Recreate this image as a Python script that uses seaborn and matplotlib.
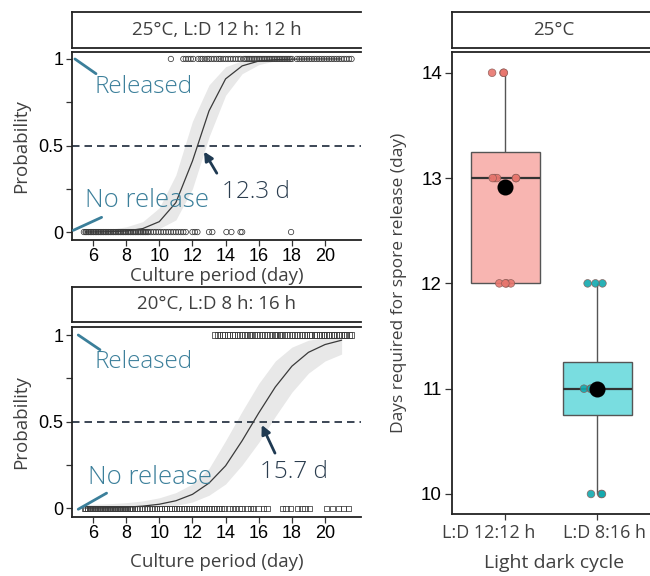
import numpy as np
import pandas as pd
import matplotlib
matplotlib.use("Agg")
import matplotlib.pyplot as plt
import matplotlib.transforms as mtransforms
import seaborn as sns

# ---- logistic panels: culture day of each sample, by outcome ----
top_released = [10.7,
    11.45, 11.6, 11.75, 11.9, 12.05,
    12.35, 12.5, 12.6, 12.75, 12.9, 13.0, 13.15, 13.3, 13.45, 13.6, 13.7, 13.85,
    14.0, 14.15, 14.3, 14.45, 14.6, 14.75, 14.9,
    15.1, 15.2, 15.3, 15.4, 15.5, 15.6, 15.7, 15.8, 15.9, 16.0, 16.1, 16.2, 16.3,
    16.4, 16.5, 16.6, 16.7, 16.8, 16.9, 17.0, 17.1, 17.2, 17.3, 17.4, 17.5, 17.6,
    17.7, 17.8, 17.9, 18.0,
    18.3, 18.45, 18.6, 18.75, 18.9, 19.05, 19.2, 19.35, 19.5, 19.65, 19.8, 19.95,
    20.1, 20.25, 20.4, 20.55, 20.7, 20.85, 21.0, 21.15, 21.3, 21.45, 21.6]
top_no_release = [5.45, 5.55, 5.6, 5.7, 5.75, 5.85, 5.9, 6.0, 6.05, 6.15, 6.2, 6.3,
    6.35, 6.45, 6.5, 6.6, 6.65, 6.75, 6.8, 6.9, 6.95, 7.05, 7.1, 7.2, 7.25, 7.35,
    7.4, 7.5, 7.55, 7.65, 7.7, 7.8, 7.85, 7.95, 8.0, 8.1, 8.15, 8.25, 8.3, 8.4,
    8.45, 8.55, 8.6, 8.7, 8.75, 8.85, 8.9, 9.0, 9.05, 9.15, 9.2, 9.3, 9.35, 9.5,
    9.65, 9.8, 9.95, 10.1, 10.25, 10.4, 10.55, 10.7, 10.85, 11.0, 11.15, 11.3,
    11.45, 11.6,
    12.0, 12.15, 12.3, 13.0, 13.2, 14.05, 14.35, 14.9, 15.0, 17.95]

bottom_released = [13.35, 13.5, 13.65, 13.8, 13.95, 14.1, 14.25, 14.4, 14.55, 14.7,
    14.85, 15.0, 15.15, 15.3, 15.45, 15.5, 15.6, 15.75, 15.9, 16.05, 16.2, 16.35,
    16.5, 16.65, 16.8, 16.95, 17.0, 17.1, 17.25, 17.3, 17.4, 17.55, 17.7, 17.85,
    18.0, 18.15, 18.3, 18.45, 18.6, 18.75, 18.9, 19.05, 19.1, 19.2, 19.35, 19.5,
    19.65, 19.8, 19.9, 19.95, 20.1, 20.25, 20.4, 20.5, 20.55, 20.7, 20.85, 21.0,
    21.15, 21.2, 21.3, 21.45, 21.6]
bottom_no_release = [5.5, 5.55, 5.65, 5.7, 5.8, 5.85, 5.95, 6.0, 6.1, 6.15, 6.25,
    6.3, 6.4, 6.45, 6.55, 6.6, 6.7, 6.75, 6.85, 6.9, 7.0, 7.05, 7.15, 7.2, 7.3,
    7.35, 7.45, 7.5, 7.6, 7.65, 7.75, 7.8, 7.9, 7.95, 8.05, 8.1, 8.2, 8.25, 8.35,
    8.4, 8.5, 8.65, 8.8, 8.95, 9.1, 9.25, 9.4, 9.55, 9.7, 9.85, 10.0, 10.15, 10.3,
    10.45, 10.6, 10.75, 10.9, 11.05, 11.2, 11.35, 11.5, 11.65, 11.8, 11.95, 12.1,
    12.25, 12.4, 12.55, 12.7, 12.85, 13.0, 13.15, 13.3, 13.45, 13.6, 13.75, 13.9,
    14.2, 14.4, 14.6, 14.8, 15.0, 15.3, 15.5, 15.7, 15.95, 16.3, 16.5,
    17.45, 17.65, 17.9, 18.35, 18.6, 18.8, 19.05, 20.1, 20.45, 20.8, 21.1, 21.4]

# fitted probability and its band, read at each day
fit_days = [5.5, 6, 7, 8, 9, 10, 11, 12, 13, 14, 15, 16, 17, 18, 19, 20, 21]
top_prob = [0.0003, 0.0005, 0.002, 0.006, 0.02, 0.06, 0.17, 0.41, 0.70, 0.885,
            0.96, 0.988, 0.996, 0.999, 1.0, 1.0, 1.0]
top_lo = [0.0, 0.0, 0.0, 0.001, 0.005, 0.02, 0.07, 0.25, 0.55, 0.79, 0.915,
          0.967, 0.99, 0.997, 0.999, 1.0, 1.0]
top_hi = [0.006, 0.008, 0.015, 0.03, 0.06, 0.14, 0.33, 0.64, 0.85, 0.955, 0.99,
          0.998, 1.0, 1.0, 1.0, 1.0, 1.0]
bottom_prob = [0.0012, 0.0017, 0.003, 0.006, 0.012, 0.023, 0.043, 0.08, 0.145,
               0.245, 0.39, 0.55, 0.70, 0.82, 0.90, 0.945, 0.97]
bottom_lo = [0.0001, 0.0001, 0.0003, 0.001, 0.003, 0.007, 0.016, 0.036, 0.075,
             0.14, 0.25, 0.38, 0.53, 0.67, 0.78, 0.85, 0.89]
bottom_hi = [0.02, 0.022, 0.026, 0.032, 0.042, 0.06, 0.09, 0.14, 0.23, 0.39, 0.56,
             0.72, 0.85, 0.93, 0.97, 0.985, 0.993]

# ---- box plot panel ----
cycles = ["L:D 12:12 h", "L:D 8:16 h"]
days_12_12 = [12, 12, 12, 12, 13, 13, 13, 13, 13, 14, 14, 14]
days_8_16 = [10, 10, 10, 11, 11, 11, 11, 11, 11, 12, 12, 12]

sns.set_theme(style="white")
plt.rcParams["font.family"] = ["Open Sans", "DejaVu Sans"]

TEAL = "#3b7f9a"
NAVY = "#1f3a52"
GREY = "#404040"
W, H = 650, 576


def px(x0, y0, x1, y1):
    # pixel box -> figure fraction rect
    return [x0 / W, 1 - y1 / H, (x1 - x0) / W, (y1 - y0) / H]


def strip(fig, rect, label, cut_right=True):
    s = fig.add_axes(rect)
    s.set_xticks([])
    s.set_yticks([])
    for sp in s.spines.values():
        sp.set_color("#222222")
        sp.set_linewidth(1.3)
    if cut_right:
        s.spines["right"].set_visible(False)
    s.text(0.5, 0.5, label, ha="center", va="center", fontsize=13.5,
           color=GREY, transform=s.transAxes)


def logistic_panel(ax, released, no_release, marker, prob, lo, hi, t50_label,
                   tail, tip, t50_xy, rel_xy, rel_line, no_xy, no_line, ylim, xpad):
    df = pd.DataFrame({"day": released + no_release,
                       "state": [1] * len(released) + [0] * len(no_release)})
    ax.fill_between(fit_days, lo, hi, color="#e8e8e8", lw=0, zorder=0)
    sns.lineplot(x=fit_days, y=prob, color="#3a3a3a", lw=0.9, ax=ax, zorder=2)
    sns.scatterplot(data=df, x="day", y="state", marker=marker, s=15,
                    facecolor="none", edgecolor="#3a3a3a", linewidth=0.55,
                    ax=ax, zorder=3, legend=False)
    ax.axhline(0.5, color="#1b2838", lw=1.2, ls=(0, (4.5, 3)), zorder=1)

    ax.annotate("", xy=tip, xytext=tail,
                arrowprops=dict(arrowstyle="-|>", color=NAVY, lw=2,
                                mutation_scale=13, shrinkA=0, shrinkB=0))
    ax.text(t50_xy[0], t50_xy[1], t50_label, fontsize=17.5, color="#2b3d4f",
            ha="left", va="center", fontweight="light")
    ax.text(rel_xy[0], rel_xy[1], "Released", fontsize=17.5, color=TEAL,
            ha="left", va="center", fontweight="light")
    ax.text(no_xy[0], no_xy[1], "No release", fontsize=18.5, color=TEAL,
            ha="left", va="center", fontweight="light")
    ax.plot(rel_line[0], rel_line[1], color=TEAL, lw=2, clip_on=False, zorder=4)
    ax.plot(no_line[0], no_line[1], color=TEAL, lw=2, clip_on=False, zorder=4)

    ax.set_xlim(4.733, 22.17)
    ax.set_ylim(*ylim)
    ax.set_xticks([6, 8, 10, 12, 14, 16, 18, 20])
    ax.set_yticks([0, 0.25, 0.5, 0.75, 1])
    ax.set_yticklabels(["0", "", "0.5", "", "1"])
    for lab in ax.get_xticklabels() + ax.get_yticklabels():
        lab.set_family(["Liberation Sans", "DejaVu Sans"])
    ax.tick_params(axis="both", labelsize=13, colors="black", length=4,
                   width=0.9, direction="out", pad=2,
                   bottom=True, left=True)
    ax.tick_params(axis="both", color="#333333")
    ax.set_xlabel("Culture period (day)", fontsize=13.5, color=GREY, labelpad=xpad)
    ax.set_ylabel("Probability", fontsize=13.5, color=GREY, labelpad=6)
    for sp in ax.spines.values():
        sp.set_color("#222222")
        sp.set_linewidth(1.3)
    ax.spines["right"].set_visible(False)


fig = plt.figure(figsize=(6.5, 5.76), dpi=100)

# top-left panel
ax1 = fig.add_axes(px(72, 51.7, 361, 240))
strip(fig, px(72, 11.7, 361, 47.7), "25°C, L:D 12 h: 12 h")
logistic_panel(ax1, top_released, top_no_release, "o", top_prob, top_lo, top_hi,
               "12.3 d", tail=(13.47, 0.34), tip=(12.70, 0.465),
               t50_xy=(13.77, 0.23), rel_xy=(6.1, 0.84),
               rel_line=([4.91, 6.18], [1.0, 0.915]),
               no_xy=(5.52, 0.18), no_line=([4.81, 6.52], [0.01, 0.085]),
               ylim=(-0.046, 1.042), xpad=1)

# bottom-left panel
ax2 = fig.add_axes(px(72, 326.7, 361, 516.7))
strip(fig, px(72, 286.7, 361, 321.7), "20°C, L:D 8 h: 16 h")
logistic_panel(ax2, bottom_released, bottom_no_release, "s", bottom_prob,
               bottom_lo, bottom_hi, "15.7 d", tail=(16.98, 0.318),
               tip=(16.18, 0.481), t50_xy=(16.08, 0.21), rel_xy=(6.12, 0.846),
               rel_line=([5.11, 6.42], [1.0, 0.915]),
               no_xy=(5.7, 0.178), no_line=([5.11, 6.82], [-0.006, 0.087]),
               ylim=(-0.049, 1.048), xpad=8)

# right panel: box plot
ax3 = fig.add_axes(px(451.7, 51.7, 656, 514))
strip(fig, px(451.7, 11.7, 656, 47.7), "25°C")
box_df = pd.DataFrame({"cycle": [cycles[0]] * len(days_12_12) + [cycles[1]] * len(days_8_16),
                       "days": days_12_12 + days_8_16})
box_colors = {cycles[0]: "#f8b5b1", cycles[1]: "#79dde0"}
pt_colors = {cycles[0]: "#e8766e", cycles[1]: "#12a9ae"}
sns.boxplot(data=box_df, x="cycle", y="days", hue="cycle", palette=box_colors,
            order=cycles, hue_order=cycles, width=0.75, saturation=1,
            showcaps=False, fliersize=0, linecolor="#555555", linewidth=1.0,
            medianprops={"color": "#333333", "linewidth": 1.6},
            legend=False, ax=ax3)
np.random.seed(3)
sns.stripplot(data=box_df, x="cycle", y="days", hue="cycle", palette=pt_colors,
              order=cycles, hue_order=cycles, jitter=0.15, size=5.5,
              linewidth=0.5, edgecolor="#8a5a55", alpha=0.9, legend=False,
              ax=ax3, zorder=3)
sns.pointplot(data=box_df, x="cycle", y="days", order=cycles, estimator="mean",
              errorbar=None, color="black", linestyle="none", markersize=9.5,
              ax=ax3, zorder=5)
ax3.set_xlim(-0.58, 1.64)
ax3.set_ylim(9.81, 14.2)
ax3.set_yticks([10, 11, 12, 13, 14])
for lab in ax3.get_yticklabels():
    lab.set_family(["Liberation Sans", "DejaVu Sans"])
ax3.tick_params(axis="y", labelsize=13.5, colors="black", length=5, width=0.9,
                left=True, pad=2)
ax3.tick_params(axis="x", labelsize=13, labelcolor=GREY, length=4, width=0.9,
                bottom=True, pad=3)
ax3.tick_params(axis="both", color="#333333")
# the category labels sit a little off their ticks in the original
for lab, dx in zip(ax3.get_xticklabels(), [-16, 7]):
    lab.set_transform(lab.get_transform() +
                      mtransforms.ScaledTranslation(dx / 100, 0, fig.dpi_scale_trans))
ax3.set_xlabel("Light dark cycle", fontsize=14, color=GREY, labelpad=9)
ax3.set_ylabel("Days required for spore release (day)", fontsize=12.5,
               color=GREY, labelpad=10)
for sp in ax3.spines.values():
    sp.set_color("#222222")
    sp.set_linewidth(1.3)

fig.savefig("out.png", dpi=100)
